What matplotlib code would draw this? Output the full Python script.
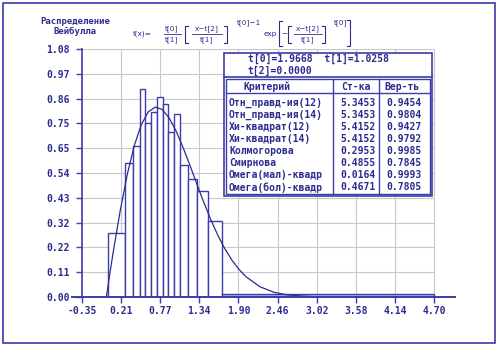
import matplotlib
matplotlib.use('Agg')
import matplotlib.pyplot as plt
from matplotlib.lines import Line2D
from matplotlib.patches import Rectangle
import numpy as np

# histogram: bin edges and heights
bin_edges = [0.027, 0.267, 0.386, 0.482, 0.554, 0.640, 0.722, 0.808, 0.888,
             0.974, 1.056, 1.175, 1.304, 1.453, 1.663, 4.70]
bin_heights = [0.280, 0.582, 0.659, 0.905, 0.757, 0.807, 0.870, 0.839, 0.717,
               0.796, 0.575, 0.513, 0.463, 0.331, 0.015]

# fitted density curve
curve_x = [0.0, 0.05, 0.1, 0.2, 0.3, 0.4, 0.5, 0.6, 0.7, 0.8, 0.9, 1.0, 1.1,
           1.2, 1.3, 1.4, 1.5, 1.6, 1.7, 1.8, 1.9, 2.0, 2.2, 2.4, 2.6, 2.8,
           3.0, 3.2, 3.6, 4.0, 4.7]
curve_y = [0.0, 0.103, 0.200, 0.379, 0.534, 0.659, 0.750, 0.806, 0.827,
           0.817, 0.780, 0.723, 0.651, 0.572, 0.490, 0.410, 0.335, 0.268,
           0.210, 0.161, 0.121, 0.089, 0.045, 0.021, 0.009, 0.004, 0.0014,
           0.0005, 0.0, 0.0, 0.0]

x_labels = ['-0.35', '0.21', '0.77', '1.34', '1.90', '2.46', '3.02', '3.58', '4.14', '4.70']
y_labels = ['0.00', '0.11', '0.22', '0.32', '0.43', '0.54', '0.65', '0.75', '0.86', '0.97', '1.08']

params = ['1.9668', '1.0258', '0.0000']
criteria = ['Отн_правд-ия(12)', 'Отн_правд-ия(14)', 'Хи-квадрат(12)',
            'Хи-квадрат(14)', 'Колмогорова', 'Смирнова',
            'Омега(мал)-квадр', 'Омега(бол)-квадр']
stats = ['5.3453', '5.3453', '5.4152', '5.4152', '0.2953', '0.4855', '0.0164', '0.4671']
probs = ['0.9454', '0.9804', '0.9427', '0.9792', '0.9985', '0.7845', '0.9993', '0.7805']

W, H = 499, 348
NAVY = '#2c2c90'
LINE = '#3c3caa'
GRID = '#c8c8c8'
MONO = 'DejaVu Sans Mono'

fig = plt.figure(figsize=(W / 100, H / 100), dpi=100)


def ftext(px, py, s, **kw):
    kw.setdefault('color', NAVY)
    kw.setdefault('zorder', 6)
    fig.text(px / W, 1 - py / H, s, **kw)


def fline(xs, ys, lw=0.8, color=NAVY):
    fig.add_artist(Line2D([x / W for x in xs], [1 - y / H for y in ys],
                          color=color, lw=lw, zorder=6))


def frect(x0, y0, x1, y1, lw=1.0, fill=False):
    fig.add_artist(Rectangle((x0 / W, 1 - y1 / H), (x1 - x0) / W, (y1 - y0) / H,
                             fill=fill, facecolor='white', edgecolor=LINE,
                             lw=lw, zorder=5))


# outer frame
frect(3, 3, 495, 343, lw=1.2)

# plot area
ax = fig.add_axes([82 / W, 1 - 297 / H, 372.9 / W, 248 / H])
ax.set_xlim(-0.35, 5.0)
ax.set_ylim(0, 1.08)
for s in ax.spines.values():
    s.set_visible(False)
ax.patch.set_alpha(0)

xt = np.linspace(-0.35, 4.70, len(x_labels))
yt = np.linspace(0, 1.08, len(y_labels))
ax.vlines(xt[1:], 0, 1.08, color=GRID, lw=0.8, zorder=0)
ax.hlines(yt[1:], -0.35, 4.70, color=GRID, lw=0.8, zorder=0)

widths = np.diff(bin_edges)
colors = ['white'] * (len(bin_heights) - 1) + ['#b4b4e6']
ax.bar(bin_edges[:-1], bin_heights, width=widths, align='edge',
       color=colors, edgecolor=LINE, lw=1.0, zorder=2)
ax.plot(curve_x, curve_y, color=NAVY, lw=0.9, zorder=3)

# axis lines
ax.plot([-0.5, 5.0], [0, 0], color=LINE, lw=1.4, clip_on=False, zorder=4)
ax.plot([-0.35, -0.35], [0, 1.08], color=LINE, lw=1.2, clip_on=False, zorder=4)

ax.set_xticks(xt)
ax.set_xticklabels(x_labels)
ax.set_yticks(yt)
ax.set_yticklabels(y_labels)
ax.tick_params(direction='out', length=4.3, width=1.0, color=LINE,
               labelcolor=NAVY, labelsize=7)
ax.tick_params(axis='x', pad=2.5)
ax.tick_params(axis='y', pad=4.3)
for lab in ax.get_xticklabels() + ax.get_yticklabels():
    lab.set_family(MONO)
    lab.set_weight('bold')

# title
ftext(75, 21.5, 'Распределение', family=MONO, weight='bold', size=6.5,
      ha='center', va='center')
ftext(75, 31.5, 'Вейбулла', family=MONO, weight='bold', size=6.5,
      ha='center', va='center')

# formula
fs = 5.3
ftext(152, 34, 'f(x)=', size=fs, ha='right', va='center')
ftext(172, 29, 't[0]', size=fs, ha='center', va='center')
ftext(172, 39.5, 't[1]', size=fs, ha='center', va='center')
fline([164, 181], [34, 34], lw=0.6)
fline([188, 185, 185, 188], [26, 26, 43, 43])
ftext(207, 29, 'x−t[2]', size=fs, ha='center', va='center')
ftext(207, 39.5, 't[1]', size=fs, ha='center', va='center')
fline([192, 222], [34, 34], lw=0.6)
fline([224, 227, 227, 224], [26, 26, 43, 43])
ftext(237, 23, 't[0]−1', size=fs, ha='left', va='center')
ftext(270, 34, 'exp', size=fs, ha='center', va='center')
fline([282, 279, 279, 282], [21, 21, 46, 46])
ftext(284.5, 34, '−', size=fs, ha='center', va='center')
fline([291, 288, 288, 291], [26, 26, 43, 43])
ftext(308, 29, 'x−t[2]', size=fs, ha='center', va='center')
ftext(308, 39.5, 't[1]', size=fs, ha='center', va='center')
fline([294, 322], [34, 34], lw=0.6)
fline([322, 325, 325, 322], [26, 26, 43, 43])
ftext(334, 23, 't[0]', size=fs, ha='left', va='center')
fline([347, 350, 350, 347], [20, 20, 46, 46])

# results box
frect(224, 52.7, 432, 196, lw=1.2, fill=True)
fline([224, 432], [76.7, 76.7], lw=1.2, color=LINE)
frect(226, 78.5, 429.5, 194, lw=1.0)
fline([226, 429.5], [93.3, 93.3], lw=1.0, color=LINE)
fline([333.3, 333.3], [78.5, 194], lw=1.0, color=LINE)
fline([379.3, 379.3], [78.5, 194], lw=1.0, color=LINE)

tk = dict(family=MONO, weight='bold', size=7, va='center')
ftext(248, 58.5, 't[0]=%s  t[1]=%s' % (params[0], params[1]), ha='left', **tk)
ftext(248, 70.5, 't[2]=%s' % params[2], ha='left', **tk)
ftext(267, 86.5, 'Критерий', ha='center', **tk)
ftext(356, 86.5, 'Ст-ка', ha='center', **tk)
ftext(402, 86.5, 'Вер-ть', ha='center', **tk)
for i in range(len(criteria)):
    y = 103.3 + 12 * i
    ftext(229, y, criteria[i], ha='left', **tk)
    ftext(376, y, stats[i], ha='right', **tk)
    ftext(422, y, probs[i], ha='right', **tk)

fig.savefig('out.png', dpi=100)
